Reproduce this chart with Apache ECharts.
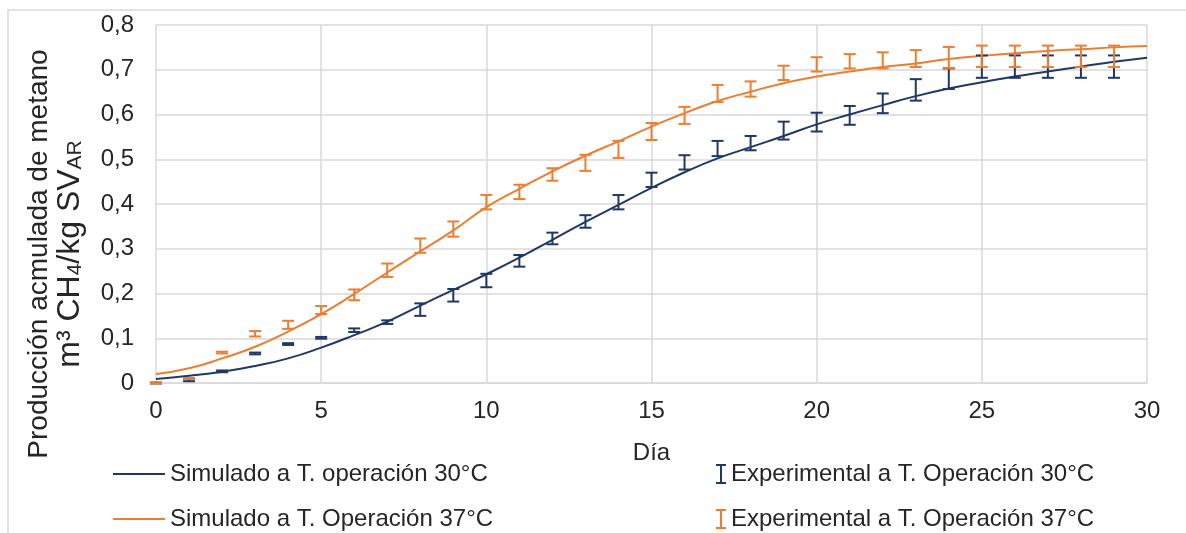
<!DOCTYPE html>
<html>
<head>
<meta charset="utf-8">
<script src="https://cdn.jsdelivr.net/npm/echarts@6/dist/echarts.min.js"></script>
<style>html,body{margin:0;padding:0;background:#fff}#c{width:1186px;height:533px}</style>
</head>
<body>
<div id="c"></div>
<script>
// ---- data ----
const simDays = [0,1,2,3,4,5,6,7,8,9,10,11,12,13,14,15,16,17,18,19,20,21,22,23,24,25,26,27,28,29,30];
const sim30 = [0.009,0.016,0.025,0.038,0.055,0.079,0.107,0.137,0.173,0.208,0.243,0.280,0.320,0.360,0.398,0.436,0.471,0.502,0.527,0.552,0.578,0.600,0.621,0.641,0.658,0.672,0.685,0.696,0.707,0.718,0.727];
const sim37 = [0.020,0.033,0.055,0.081,0.115,0.154,0.199,0.247,0.294,0.341,0.393,0.434,0.473,0.508,0.540,0.573,0.603,0.630,0.651,0.670,0.685,0.696,0.706,0.714,0.724,0.731,0.737,0.742,0.746,0.750,0.753];
const expDays = [0,1,2,3,4,5,6,7,8,9,10,11,12,13,14,15,16,17,18,19,20,21,22,23,24,25,26,27,28,29];
const exp30 = [0.000,0.007,0.026,0.066,0.087,0.101,0.118,0.136,0.164,0.196,0.229,0.273,0.323,0.361,0.404,0.454,0.493,0.524,0.536,0.564,0.583,0.598,0.625,0.655,0.680,0.707,0.707,0.707,0.707,0.707];
const err30 = [0.001,0.003,0.002,0.002,0.002,0.002,0.004,0.004,0.014,0.014,0.015,0.013,0.013,0.014,0.016,0.016,0.016,0.017,0.016,0.020,0.021,0.021,0.022,0.024,0.023,0.025,0.025,0.025,0.025,0.025];
const exp37 = [0.000,0.010,0.068,0.110,0.130,0.163,0.197,0.252,0.307,0.344,0.404,0.427,0.466,0.492,0.522,0.562,0.598,0.647,0.657,0.693,0.712,0.719,0.721,0.725,0.727,0.730,0.730,0.730,0.730,0.730];
const err37 = [0.001,0.001,0.002,0.006,0.009,0.009,0.012,0.015,0.016,0.017,0.016,0.016,0.014,0.018,0.019,0.019,0.019,0.019,0.017,0.016,0.016,0.016,0.018,0.019,0.024,0.024,0.024,0.024,0.024,0.024];
const names = ['Simulado a T. operación 30°C','Simulado a T. Operación 37°C','Experimental a T. Operación 30°C','Experimental a T. Operación 37°C'];
const xTitle = 'Día';
const yTitle1 = 'Producción acmulada de metano';

const BLUE = '#1F3864', ORANGE = '#ED7D31';
const FONT = 'Liberation Sans, Arial, sans-serif';
const TXT = '#262626';

function errData(m, e) { return expDays.map((d, i) => [d, m[i] - e[i], m[i] + e[i]]); }
function errRender(color) {
  return function (params, api) {
    const x = api.value(0), lo = api.value(1), hi = api.value(2);
    const a = api.coord([x, hi]), b = api.coord([x, lo]);
    const h = 6, st = { stroke: color, lineWidth: 2 };
    return { type: 'group', children: [
      { type: 'line', shape: { x1: a[0], y1: a[1], x2: b[0], y2: b[1] }, style: st },
      { type: 'line', shape: { x1: a[0] - h, y1: a[1], x2: a[0] + h, y2: a[1] }, style: st },
      { type: 'line', shape: { x1: b[0] - h, y1: b[1], x2: b[0] + h, y2: b[1] }, style: st }
    ]};
  };
}
const ibeam = 'path://M0,0H10V2H6V18H10V20H0V18H4V2H0Z';
function leg(name, left, top, icon, w, h) {
  return { orient: 'horizontal', left: left, top: top, padding: 0, itemGap: 0,
    itemWidth: w, itemHeight: h, selectedMode: false,
    textStyle: { fontSize: 24, color: TXT, fontFamily: FONT, padding: [0, 0, 0, 0] },
    data: [{ name: name, icon: icon }] };
}

const chart = echarts.init(document.getElementById('c'), null, { renderer: 'canvas' });
chart.setOption({
  animation: false,
  textStyle: { fontFamily: FONT },
  grid: { left: 156, right: 39, top: 25, bottom: 150, containLabel: false },
  graphic: [
    { type: 'rect', shape: { x: 8, y: 10, width: 1300, height: 700 }, style: { fill: 'none', stroke: '#d9d9d9', lineWidth: 1.5 }, silent: true },
    { type: 'text', x: 55, y: 254, rotation: Math.PI / 2, silent: true,
      style: {
        text: '{a|' + yTitle1 + '}\n{b|m³ CH}{s|4}{b|/kg SV}{s|AR}',
        align: 'center', verticalAlign: 'middle', fill: TXT,
        rich: {
          a: { fontSize: 28, lineHeight: 31, fontFamily: FONT, fill: TXT },
          b: { fontSize: 32, lineHeight: 31, fontFamily: FONT, fill: TXT },
          s: { fontSize: 21, lineHeight: 21, fontFamily: FONT, verticalAlign: 'bottom', fill: TXT }
        }
      } }
  ],
  xAxis: {
    type: 'value', min: 0, max: 30, interval: 5,
    name: xTitle, nameLocation: 'middle', nameGap: 58,
    nameTextStyle: { fontSize: 24, color: TXT, fontFamily: FONT },
    axisLine: { show: true, lineStyle: { color: '#d9d9d9', width: 1.5 } },
    axisTick: { show: false },
    axisLabel: { fontSize: 24, color: TXT, margin: 16, fontFamily: FONT },
    splitLine: { show: true, lineStyle: { color: '#d9d9d9', width: 1.5 } }
  },
  yAxis: {
    type: 'value', min: 0, max: 0.8, interval: 0.1,
    axisLine: { show: false }, axisTick: { show: false },
    axisLabel: { fontSize: 24, color: TXT, margin: 22, fontFamily: FONT,
      formatter: v => (Math.round(v * 10) / 10).toString().replace('.', ',') },
    splitLine: { show: true, lineStyle: { color: '#d9d9d9', width: 1.5 } }
  },
  legend: [
    leg(names[0], 113, 462, 'rect', 52, 2),
    leg(names[1], 113, 507, 'rect', 52, 2),
    leg(names[2], 716, 462, ibeam, 10, 20),
    leg(names[3], 716, 507, ibeam, 10, 20)
  ],
  series: [
    { name: names[0], type: 'line', smooth: true, symbol: 'none', z: 3,
      lineStyle: { color: BLUE, width: 2 }, itemStyle: { color: BLUE },
      data: simDays.map((d, i) => [d, sim30[i]]) },
    { name: names[1], type: 'line', smooth: true, symbol: 'none', z: 3,
      lineStyle: { color: ORANGE, width: 2 }, itemStyle: { color: ORANGE },
      data: simDays.map((d, i) => [d, sim37[i]]) },
    { name: names[2], type: 'custom', z: 4, itemStyle: { color: BLUE },
      renderItem: errRender(BLUE), encode: { x: 0, y: [1, 2] }, data: errData(exp30, err30) },
    { name: names[3], type: 'custom', z: 4, itemStyle: { color: ORANGE },
      renderItem: errRender(ORANGE), encode: { x: 0, y: [1, 2] }, data: errData(exp37, err37) }
  ]
});
</script>
</body>
</html>
